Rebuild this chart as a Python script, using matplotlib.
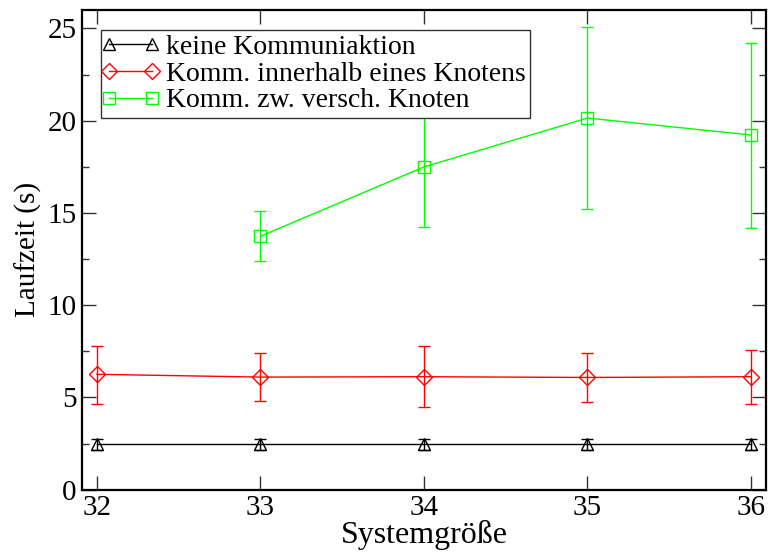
import numpy as np
import matplotlib
matplotlib.use("Agg")
from matplotlib import pyplot as plt
from matplotlib.lines import Line2D
from matplotlib.legend_handler import HandlerLine2D
from matplotlib.ticker import MultipleLocator

# data
size_all = [32, 33, 34, 35, 36]
keine = [2.45, 2.45, 2.45, 2.45, 2.45]
keine_err = [0.3, 0.3, 0.3, 0.3, 0.3]
innerhalb = [6.25, 6.1, 6.12, 6.08, 6.12]
innerhalb_lo = [4.65, 4.79, 4.46, 4.77, 4.66]
innerhalb_hi = [7.81, 7.41, 7.79, 7.40, 7.56]
size_zw = [33, 34, 35, 36]
zw = [13.73, 17.49, 20.14, 19.22]
zw_lo = [12.38, 14.24, 15.19, 14.2]
zw_hi = [15.09, 20.74, 25.08, 24.2]

plt.rcParams["font.family"] = ["Liberation Serif", "DejaVu Serif"]

fig = plt.figure(figsize=(7.68, 5.52), dpi=100)
ax = fig.add_axes([0.107, 0.113, 0.89, 0.869])

cap = 4.5
handles = []


def plot_series(x, y, lo, hi, color, marker, label, msz):
    y = np.array(y)
    yerr = [y - np.array(lo), np.array(hi) - y]
    ax.errorbar(x, y, yerr=yerr, color=color, lw=1, elinewidth=1, capsize=cap,
                capthick=1, marker=marker, markersize=msz, markerfacecolor="none",
                markeredgecolor=color, markeredgewidth=1)
    # legend proxy without the error bars
    handles.append(Line2D([], [], color=color, lw=1, marker=marker, markersize=msz,
                          markerfacecolor="none", markeredgecolor=color,
                          markeredgewidth=1, label=label))


k = np.array(keine)
e = np.array(keine_err)
plot_series(size_all, k, k - e, k + e, "black", "^", "keine Kommuniaktion", 9)
plot_series(size_all, innerhalb, innerhalb_lo, innerhalb_hi, "#ff0000", "D", "Komm. innerhalb eines Knotens", 8)
plot_series(size_zw, zw, zw_lo, zw_hi, "#00ff00", "s", "Komm. zw. versch. Knoten", 9)

ax.set_xlim(31.91, 36.09)
ax.set_ylim(0, 26)
ax.xaxis.set_major_locator(MultipleLocator(1))
ax.yaxis.set_major_locator(MultipleLocator(5))
ax.yaxis.set_minor_locator(MultipleLocator(2.5))
ax.tick_params(which="both", direction="in", top=True, right=True, labelsize=21, width=1, color="#333333")
ax.tick_params(which="major", length=10, pad=4)
ax.tick_params(which="minor", length=5)
for sp in ax.spines.values():
    sp.set_linewidth(1.6)

ax.set_xlabel("Systemgröße", fontsize=23, labelpad=-1)
ax.set_ylabel("Laufzeit (s)", fontsize=21, labelpad=4)

hmap = {h: HandlerLine2D(numpoints=2, marker_pad=0.15) for h in handles}
leg = ax.legend(handles=handles, handler_map=hmap, loc="upper left", bbox_to_anchor=(0.027, 0.958),
                borderaxespad=0, fontsize=20, handlelength=1.85, handletextpad=0.35,
                labelspacing=0.05, borderpad=0.15, fancybox=False, framealpha=1)
leg.get_frame().set_edgecolor("#333333")
leg.get_frame().set_linewidth(1)
leg.set_zorder(10)

plt.savefig("out.png", dpi=100)
